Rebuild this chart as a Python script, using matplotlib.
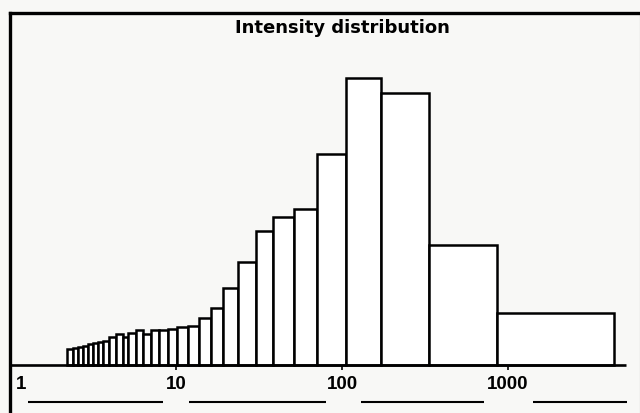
import numpy as np
import matplotlib
matplotlib.use("Agg")
import matplotlib.pyplot as plt

# bin edges (log-spaced-ish) and bar heights (arbitrary units)
edges = [2.2, 2.4, 2.57, 2.75, 2.95, 3.16, 3.39, 3.63, 3.95, 4.35, 4.8, 5.14,
         5.74, 6.33, 7.07, 7.9, 8.95, 10.1, 11.8, 13.8, 16.2, 19.2, 23.6, 30.3,
         38.4, 51.4, 70.7, 106, 172, 334, 859, 4350]
counts = [16, 17, 18, 19, 21, 22, 23, 24, 28, 31, 28, 32, 35, 31, 35, 35, 36,
          38, 39, 47, 57, 77, 103, 134, 148, 156, 211, 287, 272, 120, 52]
tick_vals = [1, 10, 100, 1000]
tick_text = ["1", "10", "100", "1000"]
# the "____" runs after each tick label
rule_spans = [(1.28, 8.4), (12.0, 80), (130, 716), (1413, 5200)]

plt.rcParams['font.family'] = ['Liberation Sans', 'DejaVu Sans']
paper = "#f8f8f6"

fig = plt.figure(figsize=(6.4, 4.14), dpi=100, facecolor=paper)
ax = fig.add_axes([10 / 640, 0, 629.5 / 640, 1 - 14 / 414])
ax.set_facecolor(paper)
ax.set_xscale("log")
ax.set_xlim(1, 6197)
ax.set_ylim(-48, 352)

ax.bar(edges[:-1], counts, width=np.diff(edges), align="edge",
       color="white", edgecolor="black", linewidth=1.8)

# baseline + small ticks
ax.plot([1, 5140], [0, 0], color="black", lw=1.9, solid_capstyle="butt")
ax.vlines(tick_vals[1:], -5, 0, color="black", lw=1.2)

for v, t in zip(tick_vals, tick_text):
    if v == 1:
        ax.text(1.08, -19, t, ha="left", va="center", fontsize=13.5,
                fontweight="bold")
    else:
        ax.text(v, -19, t, ha="center", va="center", fontsize=13.5,
                fontweight="bold")
for a, b in rule_spans:
    ax.plot([a, b], [-37, -37], color="black", lw=1.5, solid_capstyle="butt")

ax.set_xticks([])
ax.set_yticks([])
ax.xaxis.set_minor_locator(matplotlib.ticker.NullLocator())
ax.spines["bottom"].set_visible(False)
ax.spines["left"].set_linewidth(2.4)
ax.spines["top"].set_linewidth(2.4)
ax.spines["right"].set_linewidth(0.8)
ax.spines["right"].set_color("#999999")

fig.text(342 / 640, 1 - 28 / 414, "Intensity distribution", ha="center",
         va="center", fontsize=13, fontweight="bold", family="DejaVu Sans")

fig.savefig("out.png", dpi=100, facecolor=paper)
